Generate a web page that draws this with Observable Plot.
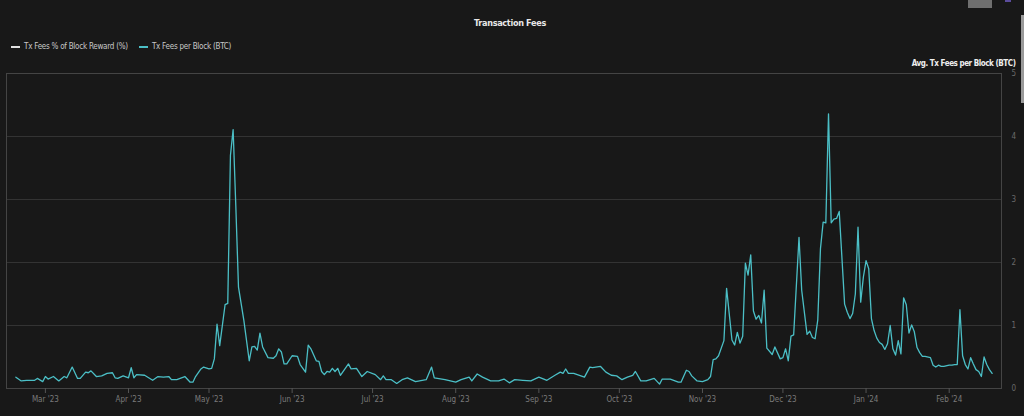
<!DOCTYPE html>
<html>
<head>
<meta charset="utf-8">
<script src="https://cdn.jsdelivr.net/npm/d3@7"></script>
<script src="https://cdn.jsdelivr.net/npm/@observablehq/plot@0.6"></script>
<style>
  html, body { margin: 0; padding: 0; background: #181818; width: 1024px; height: 416px; overflow: hidden; }
  body { position: relative; font-family: "Liberation Sans Narrow", "DejaVu Sans Condensed", Roboto, sans-serif; }
  #hdr { position: relative; height: 55px; }
  #title { position: absolute; top: 18px; left: 0; width: 1020px; text-align: center; color: #e8e8e8; font-weight: bold; font-size: 9px; letter-spacing: -0.3px; }
  #legend { position: absolute; top: 42px; left: 11px; font-size: 8px; letter-spacing: -0.25px; color: #c8c8c8; display: flex; gap: 11px; }
  .item { display: flex; align-items: center; }
  .sw { display: inline-block; width: 9px; height: 2px; margin-right: 4px; }
  #chart svg { display: block; }
  #chart svg g[aria-label="text"] text { letter-spacing: -0.45px; }
</style>
</head>
<body>
<div id="hdr">
  <div id="title"></div>
  <div id="legend"></div>
</div>
<div id="chart"></div>
<div style="position:absolute;left:968px;top:0;width:24px;height:8px;background:#6f6f6f"></div>
<div style="position:absolute;left:1005px;top:0;width:6px;height:2px;background:#5b4c9c"></div>
<div style="position:absolute;left:1021px;top:15px;width:3px;height:88px;background:#9a9a9a"></div>
<script>
const titleText = "Transaction Fees";
const seriesNames = ["Tx Fees % of Block Reward (%)", "Tx Fees per Block (BTC)"];
const seriesColors = ["#e0e0e0", "#4bbfc6"];
const yAxisTitle = "Avg. Tx Fees per Block (BTC)";
const yTicks = [0, 1, 2, 3, 4, 5];

const dates = [
"2023-02-18","2023-02-20","2023-02-22","2023-02-25","2023-02-26","2023-02-28",
"2023-03-01","2023-03-02","2023-03-04","2023-03-06","2023-03-08","2023-03-09","2023-03-11","2023-03-13","2023-03-14","2023-03-16","2023-03-17","2023-03-18","2023-03-20","2023-03-22","2023-03-24","2023-03-26","2023-03-27","2023-03-28","2023-03-30",
"2023-04-01","2023-04-02","2023-04-03","2023-04-04","2023-04-07","2023-04-10","2023-04-12","2023-04-14","2023-04-16","2023-04-17","2023-04-19","2023-04-22","2023-04-24","2023-04-25","2023-04-26","2023-04-28","2023-04-29",
"2023-05-01","2023-05-02","2023-05-03","2023-05-04","2023-05-05","2023-05-07","2023-05-08","2023-05-09","2023-05-10","2023-05-11","2023-05-12","2023-05-14","2023-05-16","2023-05-17","2023-05-18","2023-05-19","2023-05-20","2023-05-21","2023-05-23","2023-05-25","2023-05-26","2023-05-27","2023-05-28","2023-05-29","2023-05-30",
"2023-06-01","2023-06-03","2023-06-04","2023-06-06","2023-06-07","2023-06-08","2023-06-10","2023-06-11","2023-06-12","2023-06-13","2023-06-14","2023-06-15","2023-06-16","2023-06-17","2023-06-18","2023-06-19","2023-06-22","2023-06-23","2023-06-25","2023-06-27","2023-06-29",
"2023-07-02","2023-07-04","2023-07-05","2023-07-06","2023-07-08","2023-07-10","2023-07-12","2023-07-14","2023-07-17","2023-07-21","2023-07-23","2023-07-24","2023-07-28",
"2023-08-01","2023-08-03","2023-08-06","2023-08-07","2023-08-09","2023-08-11","2023-08-14","2023-08-17","2023-08-19","2023-08-21","2023-08-23","2023-08-26","2023-08-29",
"2023-09-01","2023-09-04","2023-09-07","2023-09-09","2023-09-10","2023-09-11","2023-09-12","2023-09-14","2023-09-18","2023-09-20","2023-09-21","2023-09-24","2023-09-26","2023-09-28","2023-09-30",
"2023-10-02","2023-10-04","2023-10-06","2023-10-07","2023-10-09","2023-10-11","2023-10-14","2023-10-16","2023-10-17","2023-10-20","2023-10-23","2023-10-24","2023-10-26","2023-10-27","2023-10-28","2023-10-30",
"2023-11-01","2023-11-03","2023-11-04","2023-11-05","2023-11-06","2023-11-07","2023-11-09","2023-11-10","2023-11-12","2023-11-13","2023-11-14","2023-11-15","2023-11-16","2023-11-17","2023-11-18","2023-11-19","2023-11-20","2023-11-21","2023-11-22","2023-11-23","2023-11-24","2023-11-25","2023-11-27","2023-11-28","2023-11-30",
"2023-12-01","2023-12-02","2023-12-03","2023-12-04","2023-12-05","2023-12-07","2023-12-08","2023-12-10","2023-12-11","2023-12-12","2023-12-13","2023-12-14","2023-12-15","2023-12-16","2023-12-17","2023-12-18","2023-12-19","2023-12-20","2023-12-21","2023-12-22","2023-12-24","2023-12-25","2023-12-26","2023-12-27","2023-12-28","2023-12-29","2023-12-30","2023-12-31",
"2024-01-01","2024-01-02","2024-01-03","2024-01-04","2024-01-05","2024-01-06","2024-01-07","2024-01-08","2024-01-09","2024-01-10","2024-01-11","2024-01-12","2024-01-13","2024-01-14","2024-01-15","2024-01-16","2024-01-17","2024-01-18","2024-01-19","2024-01-20","2024-01-21","2024-01-22","2024-01-23","2024-01-25","2024-01-26","2024-01-27","2024-01-28","2024-01-29","2024-01-30",
"2024-02-01","2024-02-02","2024-02-03","2024-02-04","2024-02-05","2024-02-06","2024-02-07","2024-02-08","2024-02-09","2024-02-10","2024-02-11","2024-02-12","2024-02-13","2024-02-14","2024-02-15","2024-02-16","2024-02-17"
];

const feesBTC = [
0.18,0.12,0.13,0.13,0.16,0.11,
0.19,0.15,0.19,0.12,0.19,0.17,0.34,0.16,0.16,0.26,0.25,0.28,0.19,0.20,0.24,0.25,0.17,0.16,0.20,
0.17,0.33,0.17,0.22,0.21,0.13,0.19,0.18,0.19,0.14,0.14,0.19,0.10,0.10,0.19,0.31,0.34,
0.31,0.32,0.47,1.02,0.68,1.33,1.35,3.70,4.11,2.90,1.61,1.08,0.44,0.66,0.67,0.61,0.88,0.66,0.49,0.48,0.52,0.63,0.58,0.39,0.39,
0.52,0.51,0.38,0.26,0.69,0.63,0.44,0.43,0.27,0.22,0.27,0.26,0.32,0.27,0.32,0.21,0.39,0.31,0.32,0.19,0.27,
0.22,0.14,0.20,0.14,0.14,0.08,0.14,0.17,0.11,0.14,0.34,0.17,0.14,
0.10,0.14,0.18,0.12,0.23,0.18,0.12,0.12,0.15,0.09,0.14,0.13,0.12,
0.18,0.13,0.21,0.26,0.24,0.31,0.24,0.24,0.18,0.34,0.33,0.35,0.26,0.21,0.20,
0.14,0.18,0.21,0.27,0.12,0.12,0.16,0.07,0.15,0.15,0.10,0.10,0.29,0.27,0.20,0.12,
0.11,0.14,0.19,0.46,0.47,0.52,0.76,1.59,0.77,0.69,0.89,0.72,0.83,1.99,1.80,2.12,1.23,1.10,1.16,1.04,1.56,0.64,0.54,0.66,0.47,
0.49,0.63,0.44,0.83,0.85,2.40,1.56,0.86,0.91,0.81,0.79,1.09,2.22,2.64,2.63,4.36,2.63,2.69,2.70,2.81,1.34,1.21,1.11,1.19,1.50,2.56,1.37,1.77,
2.03,1.90,1.11,0.92,0.80,0.73,0.70,0.62,0.71,1.00,0.63,0.53,0.76,0.55,1.44,1.33,0.88,1.01,0.90,0.65,0.57,0.51,0.51,0.49,0.37,0.34,0.37,0.35,0.35,
0.37,0.37,0.38,0.38,1.25,0.52,0.38,0.31,0.49,0.39,0.30,0.27,0.19,0.50,0.38,0.30,0.24
];

const xDomain = ["2023-02-14T12:00", "2024-02-20T12:00"];

document.getElementById("title").textContent = titleText;
const leg = document.getElementById("legend");
seriesNames.forEach((n, i) => {
  const it = document.createElement("div");
  it.className = "item";
  it.innerHTML = `<span class="sw" style="background:${seriesColors[i]}"></span><span></span>`;
  it.lastChild.textContent = n;
  leg.appendChild(it);
});

const data = dates.map((d, i) => ({date: new Date(d + "T00:00Z"), value: feesBTC[i]}));
const fontFam = '"Liberation Sans Narrow", "DejaVu Sans Condensed", Roboto, sans-serif';

const chart = Plot.plot({
  width: 1024,
  height: 361,
  marginTop: 18,
  marginBottom: 28,
  marginLeft: 6,
  marginRight: 23,
  style: {background: "transparent", color: "#7a7a7a", fontFamily: fontFam, fontSize: "8px"},
  x: {type: "utc", domain: xDomain.map(s => new Date(s + "Z"))},
  y: {domain: [0, 5]},
  marks: [
    Plot.gridY([1, 2, 3, 4], {stroke: "#333", strokeOpacity: 1}),
    Plot.frame({stroke: "#444", strokeOpacity: 1}),
    Plot.axisX({ticks: d3.utcMonth.every(1), tickFormat: d3.utcFormat("%b '%y"), tickSize: 5, stroke: "#555", tickPadding: 3, fill: "#7a7a7a", label: null}),
    Plot.axisY({anchor: "right", ticks: yTicks, tickFormat: d => String(d), tickSize: 0, tickPadding: 10, fill: "#6a6a6a", label: null}),
    Plot.line(data, {x: "date", y: "value", stroke: seriesColors[1], strokeWidth: 1.3}),
    Plot.text([yAxisTitle], {frameAnchor: "top-right", text: d => d, dx: 14, dy: -13, textAnchor: "end", fill: "#eeeeee", fontWeight: "bold", fontSize: 8})
  ]
});
document.getElementById("chart").appendChild(chart);
</script>
</body>
</html>
